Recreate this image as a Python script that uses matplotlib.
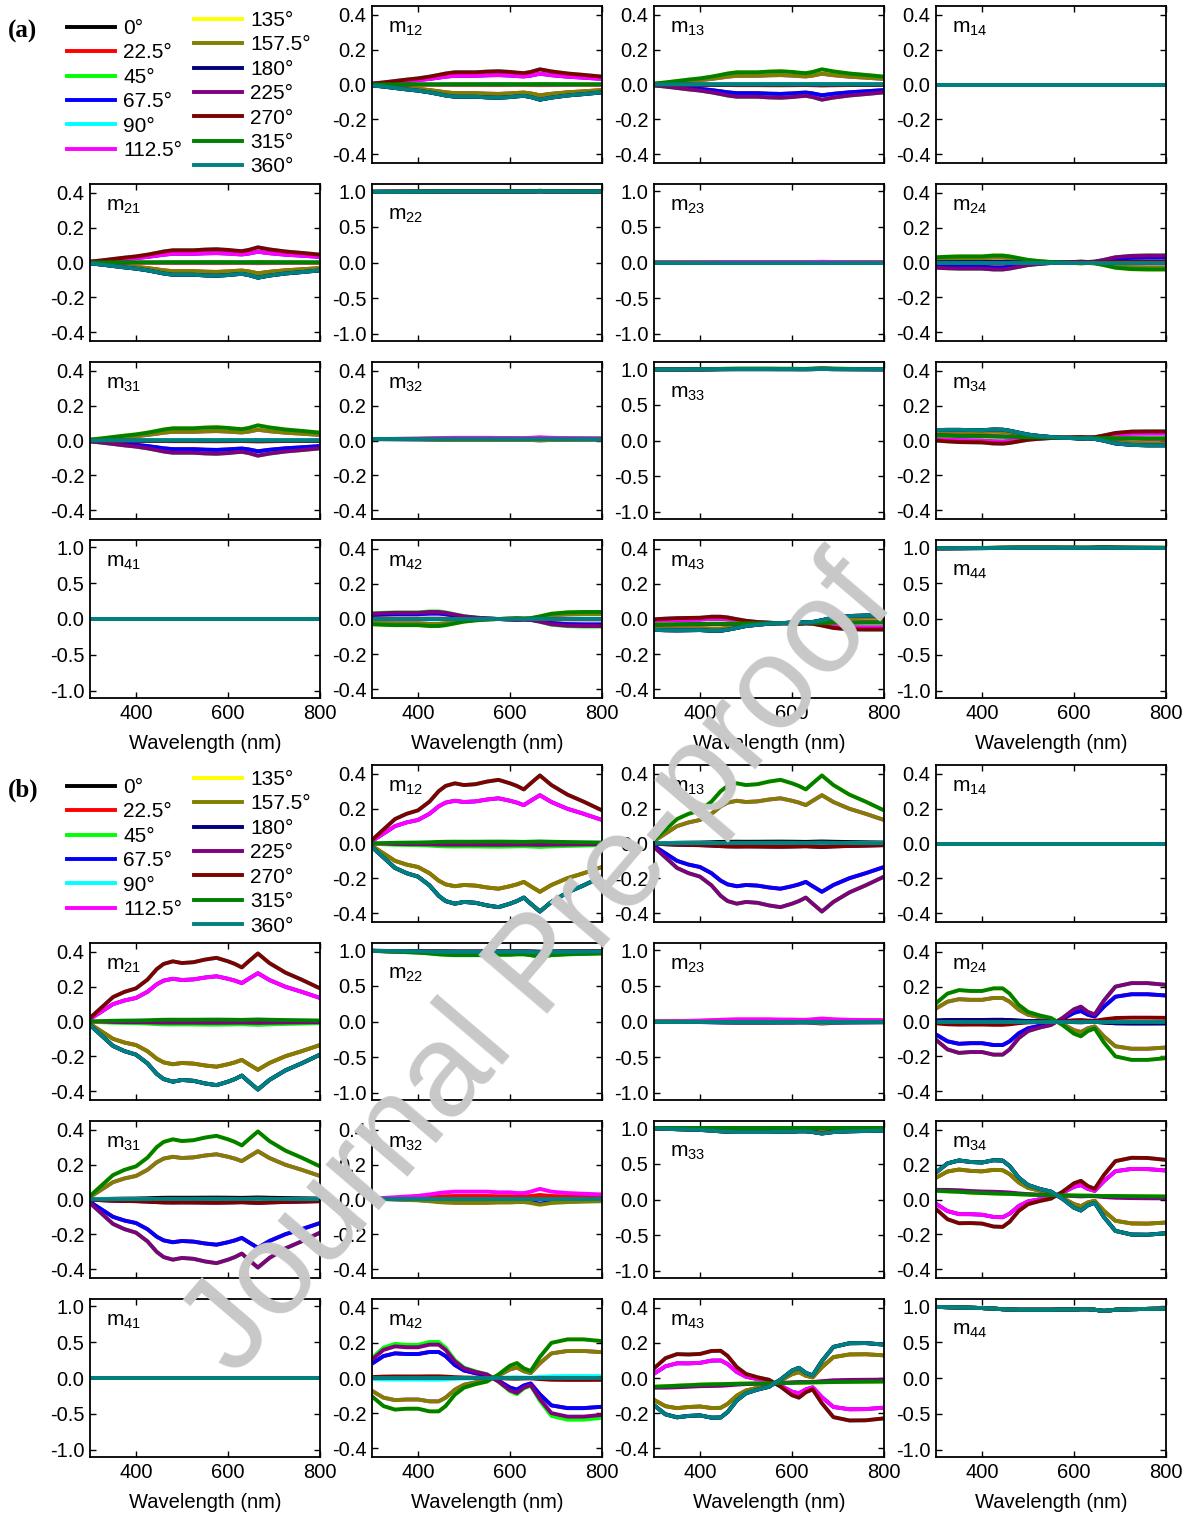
import numpy as np
import matplotlib
matplotlib.use('Agg')
import matplotlib.pyplot as plt

plt.rcParams['font.family'] = ['Liberation Sans', 'DejaVu Sans']
plt.rcParams['axes.unicode_minus'] = False

# rotation angles of the sample and the colour used for each
angles = ['0°', '22.5°', '45°', '67.5°', '90°', '112.5°', '135°', '157.5°',
          '180°', '225°', '270°', '315°', '360°']
colors = ['#000000', '#ff0000', '#00ff00', '#0000ff', '#00ffff', '#ff00ff', '#ffff00',
          '#808000', '#000080', '#800080', '#800000', '#008000', '#008080']

wavelength = [300, 325, 350, 375, 400, 425, 445, 460, 480, 500, 525, 550,
              575, 600, 615, 630, 645, 665, 690, 725, 760, 800]

# spectral profiles (outermost curve of each family)
diat_a = [0.005, 0.012, 0.02, 0.028, 0.035, 0.045, 0.055, 0.063, 0.07, 0.07, 0.07,
          0.074, 0.076, 0.072, 0.068, 0.065, 0.072, 0.087, 0.075, 0.063, 0.055, 0.045]
diat_b = [0.02, 0.08, 0.14, 0.17, 0.19, 0.24, 0.30, 0.33, 0.345, 0.335, 0.34,
          0.355, 0.365, 0.345, 0.33, 0.31, 0.345, 0.39, 0.335, 0.28, 0.24, 0.19]
ret_a = [0.03, 0.033, 0.035, 0.035, 0.035, 0.04, 0.04, 0.035, 0.025, 0.015, 0.008,
         0.003, 0.0, -0.003, -0.005, -0.003, -0.005, -0.015, -0.03, -0.038, -0.04, -0.04]
ret_b = [0.105, 0.16, 0.18, 0.175, 0.175, 0.19, 0.19, 0.16, 0.095, 0.055, 0.035,
         0.02, -0.02, -0.07, -0.085, -0.055, -0.04, -0.12, -0.2, -0.22, -0.22, -0.21]
off34_a = [0.03, 0.028, 0.026, 0.025, 0.024, 0.023, 0.022, 0.021, 0.02, 0.019, 0.018,
           0.017, 0.016, 0.016, 0.015, 0.015, 0.014, 0.014, 0.013, 0.013, 0.012, 0.012]
off34_b = [0.05, 0.047, 0.044, 0.04, 0.037, 0.035, 0.033, 0.032, 0.03, 0.028, 0.026,
           0.025, 0.024, 0.023, 0.022, 0.022, 0.021, 0.02, 0.02, 0.019, 0.018, 0.017]
off43_a = [-0.032, -0.031, -0.03, -0.029, -0.028, -0.027, -0.027, -0.026, -0.026, -0.025, -0.025,
           -0.024, -0.024, -0.023, -0.023, -0.022, -0.022, -0.022, -0.021, -0.021, -0.02, -0.02]
off43_b = [-0.05, -0.047, -0.044, -0.041, -0.038, -0.036, -0.035, -0.034, -0.033, -0.032, -0.031,
           -0.03, -0.029, -0.028, -0.027, -0.026, -0.025, -0.024, -0.023, -0.022, -0.021, -0.02]
dip = [0.0, 0.005, 0.01, 0.015, 0.02, 0.03, 0.04, 0.045, 0.05, 0.05, 0.05,
       0.05, 0.045, 0.045, 0.04, 0.04, 0.05, 0.07, 0.05, 0.04, 0.035, 0.03]

# weight of the profile for each angle, per element
c_m12 = [-1.0, -0.71, -0.05, 0.71, 1.0, 0.71, 0.0, -0.71, -1.0, -0.02, 1.0, 0.03, -1.0]
c_m13 = [0.03, -0.71, -1.0, -0.71, 0.01, 0.71, 1.0, 0.71, -0.05, -1.0, -0.05, 1.0, 0.01]
c_m24 = [0.05, -0.71, -1.0, -0.71, 0.0, 0.71, 1.0, 0.71, 0.05, -1.0, -0.1, 1.0, 0.0]
c_m42 = [0.0, 0.78, 1.08, 0.78, -0.05, -0.7, -1.0, -0.7, 0.0, 1.0, 0.05, -1.0, 0.0]
c_m34 = [1.0, 0.71, 0.0, -0.71, -1.0, -0.71, 0.0, 0.71, 1.0, 0.05, -1.0, 0.0, 1.0]
c_m43 = [-1.0, -0.71, 0.0, 0.71, 1.0, 0.71, 0.0, -0.71, -1.0, -0.05, 1.0, 0.0, -1.0]
c_m22 = [0.2, 0.6, 1.2, 0.6, 0.2, 0.6, 1.0, 0.6, 0.2, 1.0, 0.2, 1.2, 0.3]
c_m33 = [1.0, 0.6, 0.0, 0.6, 0.9, 0.6, 0.1, 0.6, 1.0, 0.0, 0.9, 0.0, 1.0]
c_m44 = [0.8, 0.8, 0.8, 0.8, 0.8, 0.8, 0.8, 0.8, 0.8, 0.8, 0.8, 0.8, 0.8]
c_m23 = [0.0, 0.5, 0.0, -0.4, 0.0, 0.6, 0.0, -0.3, 0.0, 0.0, 0.0, 0.0, 0.0]
c_m32 = [0.0, 0.3, 0.0, -0.4, 0.0, 0.8, 0.0, -0.5, 0.0, 0.0, 0.0, 0.0, 0.0]
c_diag_a = [0.1, 0.15, 0.2, 0.15, 0.1, 0.15, 0.2, 0.15, 0.1, 0.2, 0.1, 0.2, 0.1]
c_small_a = [0.0, 0.1, 0.0, -0.1, 0.0, 0.15, 0.0, -0.1, 0.0, 0.0, 0.0, 0.0, 0.0]
c_zero = [0.0, 0.0, 0.0, 0.0, 0.0, 0.0, 0.0, 0.0, 0.0, 0.0, 0.0, 0.0, 0.0]

# element -> (base level, profile, weights)
group_a = {
    (0, 1): (0.0, diat_a, c_m12), (0, 2): (0.0, diat_a, c_m13), (0, 3): (0.0, dip, c_zero),
    (1, 0): (0.0, diat_a, c_m12), (1, 1): (0.99, dip, c_diag_a), (1, 2): (0.0, dip, c_small_a),
    (1, 3): (0.0, ret_a, c_m24),
    (2, 0): (0.0, diat_a, c_m13), (2, 1): (0.008, dip, c_small_a), (2, 2): (0.995, dip, c_diag_a),
    (2, 3): (off34_a, ret_a, c_m34),
    (3, 0): (0.0, dip, c_zero), (3, 1): (0.0, ret_a, c_m42), (3, 2): (off43_a, ret_a, c_m43),
    (3, 3): (0.985, dip, c_diag_a),
}
group_b = {
    (0, 1): (0.0, diat_b, c_m12), (0, 2): (0.0, diat_b, c_m13), (0, 3): (0.0, dip, c_zero),
    (1, 0): (0.0, diat_b, c_m12), (1, 1): (0.99, dip, [-v for v in c_m22]),
    (1, 2): (0.0, dip, c_m23), (1, 3): (0.0, ret_b, c_m24),
    (2, 0): (0.0, diat_b, c_m13), (2, 1): (0.005, dip, c_m32),
    (2, 2): (0.995, dip, [-v for v in c_m33]), (2, 3): (off34_b, ret_b, c_m34),
    (3, 0): (0.0, dip, c_zero), (3, 1): (0.0, ret_b, c_m42), (3, 2): (off43_b, ret_b, c_m43),
    (3, 3): (0.99, dip, [-v for v in c_m44]),
}
wide_range = {(1, 1), (1, 2), (2, 2), (3, 0), (3, 3)}
diagonal = {(1, 1), (2, 2), (3, 3)}

W, H = 1190, 1517
cols_px = [(90, 320), (372, 602), (654, 884), (936, 1166)]
rows_a = [(6, 163), (184, 341), (362, 519), (540, 698)]
rows_b = [(765, 922), (943, 1100), (1121, 1278), (1299, 1457)]

fig = plt.figure(figsize=(W / 100, H / 100), dpi=100)
x = np.array(wavelength)


def draw_group(group, rows, tag, legend_top):
    handles = None
    for (r, c), (base, prof, coefs) in group.items():
        x0, x1 = cols_px[c]
        y0, y1 = rows[r]
        ax = fig.add_axes([x0 / W, 1 - y1 / H, (x1 - x0) / W, (y1 - y0) / H])
        base = np.asarray(base, dtype=float)
        prof = np.asarray(prof)
        lines = []
        for k in range(len(angles)):
            ln, = ax.plot(x, base + coefs[k] * prof, color=colors[k], lw=2.8,
                          label=angles[k], solid_joinstyle='round')
            lines.append(ln)
        if handles is None:
            handles = lines
        ax.set_xlim(300, 800)
        ax.set_xticks([400, 600, 800])
        if (r, c) in wide_range:
            ax.set_ylim(-1.1, 1.1)
            ax.set_yticks([-1.0, -0.5, 0.0, 0.5, 1.0])
        else:
            ax.set_ylim(-0.45, 0.45)
            ax.set_yticks([-0.4, -0.2, 0.0, 0.2, 0.4])
        ax.yaxis.set_major_formatter(plt.FormatStrFormatter('%.1f'))
        ax.tick_params(direction='in', top=True, right=True, length=4, width=1,
                       labelsize=14.5, pad=4)
        for sp in ax.spines.values():
            sp.set_linewidth(1.3)
        if r == 3:
            ax.set_xlabel('Wavelength (nm)', fontsize=14.5, labelpad=8)
        else:
            ax.tick_params(labelbottom=False)
        ty = 0.86 if (r, c) in diagonal else 0.92
        ax.text(0.07, ty, r'$\mathregular{m_{%d%d}}$' % (r + 1, c + 1),
                transform=ax.transAxes, fontsize=15, va='top', ha='left')

    # legend split in two columns: 6 + 7 entries
    leg_kw = dict(loc='upper left', frameon=False, fontsize=15, handlelength=2.3,
                  handletextpad=0.4, labelspacing=0.26, borderpad=0, borderaxespad=0)
    fig.legend(handles[:6], angles[:6],
               bbox_to_anchor=(67 / W, 1 - (legend_top + 13) / H), **leg_kw)
    fig.legend(handles[6:], angles[6:],
               bbox_to_anchor=(194 / W, 1 - (legend_top + 5) / H), **leg_kw)
    fig.text(8 / W, 1 - (rows[0][0] + 25) / H, tag, fontsize=18, fontweight='bold',
             family='Liberation Serif', va='center', ha='left')


draw_group(group_a, rows_a, '(a)', 6)
draw_group(group_b, rows_b, '(b)', 765)

fig.text(540 / W, 1 - 968 / H, 'Journal Pre-proof', fontsize=95, color='#c8c8c8',
         rotation=49.5, rotation_mode='anchor', ha='center', va='center', zorder=10)

fig.savefig('out.png', dpi=100)
